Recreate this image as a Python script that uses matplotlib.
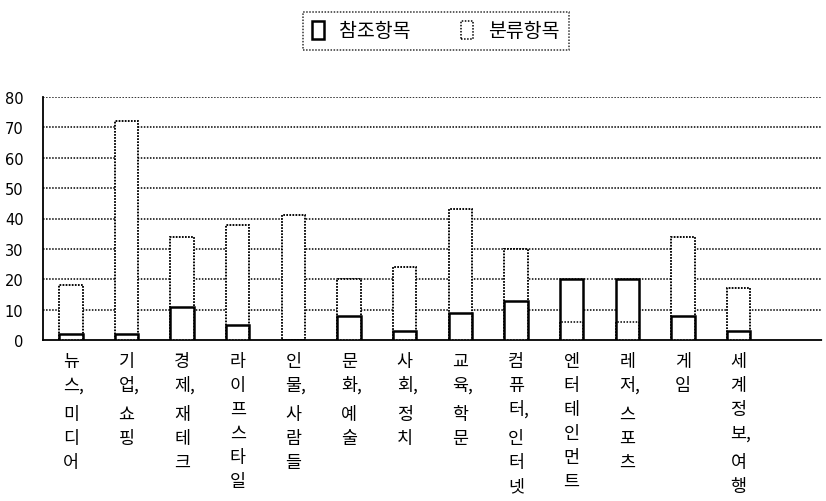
import numpy as np
import matplotlib.pyplot as plt
from matplotlib.patches import Patch

plt.rcParams['font.family'] = ['Noto Sans CJK KR', 'DejaVu Sans']

# categories and counts
categories = ['뉴스, 미디어', '기업, 쇼핑', '경제, 재테크', '라이프스타일', '인물, 사람들',
              '문화, 예술', '사회, 정치', '교육, 학문', '컴퓨터, 인터넷', '엔터테인먼트',
              '레저, 스포츠', '게임', '세계정보, 여행']
ref_items = [2, 2, 11, 5, 0, 8, 3, 9, 13, 20, 20, 8, 3]
cls_items = [18, 72, 34, 38, 41, 20, 24, 43, 30, 6, 6, 34, 17]
yticks = [0, 10, 20, 30, 40, 50, 60, 70, 80]

fig = plt.figure(figsize=(8.26, 5.02), dpi=100)
ax = fig.add_axes([43 / 826, 1 - 341 / 502, 779 / 826, 243 / 502])

x = np.arange(len(categories))
w = 0.42
dot = (0, (1, 1))

# dotted bars behind, solid bars in front, dotted outline redrawn on top
ax.bar(x, cls_items, w, facecolor='white', edgecolor='black', linewidth=1.1,
       linestyle=dot, zorder=2)
ax.bar(x, ref_items, w, facecolor='white', edgecolor='black', linewidth=1.8,
       zorder=3)
ax.bar(x, cls_items, w, facecolor='none', edgecolor='black', linewidth=1.1,
       linestyle=dot, zorder=4)

ax.set_xlim(-0.5, len(categories) + 0.5)
ax.set_ylim(0, 80)
ax.set_yticks(yticks)
ax.set_yticklabels([str(v) for v in yticks], family='DejaVu Sans', fontsize=10.5)
ax.tick_params(axis='y', length=0, pad=14)
ax.set_xticks([])
for v in yticks[1:]:
    ax.axhline(v, color='black', linewidth=1.1, linestyle=dot, zorder=1)

for s in ['top', 'right']:
    ax.spines[s].set_visible(False)
for s in ['left', 'bottom']:
    ax.spines[s].set_linestyle(dot)
    ax.spines[s].set_linewidth(1.3)

# vertical labels, one syllable per row
step = 24
for i, lab in enumerate(categories):
    off = -21
    for ch in lab:
        if ch == ' ':
            off -= 5
        elif ch == ',':
            ax.annotate(',', (i, 0), xycoords=('data', 'axes fraction'),
                        xytext=(7, off + step), textcoords='offset pixels',
                        ha='left', va='center', fontsize=12.5)
        else:
            ax.annotate(ch, (i, 0), xycoords=('data', 'axes fraction'),
                        xytext=(0, off), textcoords='offset pixels',
                        ha='center', va='center', fontsize=12.5)
            off -= step

handles = [Patch(facecolor='white', edgecolor='black', linewidth=1.8),
           Patch(facecolor='white', edgecolor='black', linewidth=1.1, linestyle=dot)]
leg = fig.legend(handles, ['참조항목', '분류항목'], loc='center',
                 bbox_to_anchor=(436 / 826, 1 - 32 / 502), ncol=2, fontsize=14,
                 frameon=True, fancybox=False, handlelength=0.6, handleheight=1.0,
                 columnspacing=2.6, borderpad=0.45, handletextpad=0.8,
                 borderaxespad=0)
leg.get_frame().set_edgecolor('black')
leg.get_frame().set_linestyle(dot)
leg.get_frame().set_linewidth(1.1)

fig.savefig('out.png', dpi=100)
